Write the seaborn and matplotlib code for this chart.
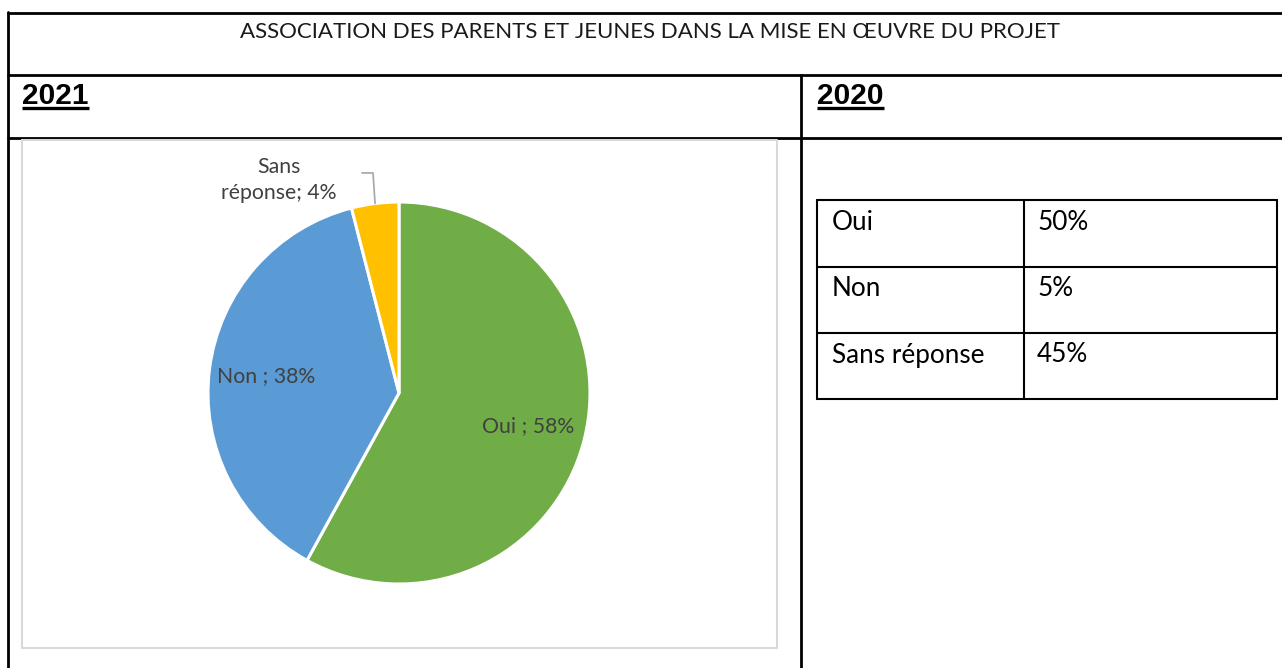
import matplotlib
matplotlib.use("Agg")
import matplotlib.pyplot as plt
import seaborn as sns
import numpy as np

# data
title = "ASSOCIATION DES PARENTS ET JEUNES DANS LA MISE EN ŒUVRE DU PROJET"
years = ["2021", "2020"]
labels_2021 = ["Oui", "Non", "Sans réponse"]
values_2021 = [58, 38, 4]
labels_2020 = ["Oui", "Non", "Sans réponse"]
values_2020 = ["50%", "5%", "45%"]
colors = ["#70AD47", "#5B9BD5", "#FFC000"]

sns.set_theme(style="white")
plt.rcParams["font.family"] = ["Lato", "DejaVu Sans"]

W, H = 1282, 668
fig = plt.figure(figsize=(W / 100, H / 100), dpi=100)

# overlay axes in pixel units for the page table
page = fig.add_axes([0, 0, 1, 1])
page.set_xlim(0, W)
page.set_ylim(H, 0)
page.axis("off")

lw = 2.0
for y in [13, 75, 138]:
    page.plot([7, W], [y, y], color="black", lw=lw, solid_capstyle="butt")
page.plot([8, 8], [12, H], color="black", lw=lw)
page.plot([801, 801], [75, H], color="black", lw=lw)

page.text(650, 32, title, ha="center", va="center", fontsize=16,
          fontweight="normal", color="#1a1a1a")

for x, yr in zip([22, 817], years):
    t = page.text(x, 96, yr, ha="left", va="center", fontsize=21.5,
                  fontweight="bold", color="black",
                  family=["Liberation Sans", "DejaVu Sans"])
    fig.canvas.draw()
    bb = t.get_window_extent().transformed(page.transData.inverted())
    page.plot([bb.x0, bb.x1], [108, 108], color="black", lw=2.4,
              solid_capstyle="butt")

# chart frame
page.plot([22, 777, 777, 22, 22], [140, 140, 648, 648, 140],
          color="#D9D9D9", lw=1.5)

# 2020 table
tx0, tx1, tcol = 817, 1277, 1024
rows_y = [200, 267, 333, 399]
for y in rows_y:
    page.plot([tx0, tx1], [y, y], color="black", lw=1.5)
for x in [tx0, tcol, tx1]:
    page.plot([x, x], [rows_y[0], rows_y[-1]], color="black", lw=1.5)
for i, (lab, val) in enumerate(zip(labels_2020, values_2020)):
    yy = rows_y[i] + 22
    page.text(832, yy, lab, ha="left", va="center", fontsize=18.8, color="black")
    page.text(1037, yy, val, ha="left", va="center", fontsize=18.8, color="black")

# pie 2021
cx, cy, r = 399, 393, 191
ax = fig.add_axes([(cx - r) / W, (H - cy - r) / H, 2 * r / W, 2 * r / H])
pie_labels = [f"{l} ; {v}%" for l, v in zip(labels_2021, values_2021)]
wedges, texts = ax.pie(values_2021, colors=colors, startangle=90,
                       counterclock=False, labels=pie_labels,
                       labeldistance=0.7,
                       wedgeprops=dict(edgecolor="white", linewidth=2.2),
                       textprops=dict(color="#404040", fontsize=15.3))
ax.set_xlim(-1, 1)
ax.set_ylim(-1, 1)
ax.set_aspect("equal")
ax.axis("off")
for t in texts:
    t.set_ha("center")
    t.set_va("center")

# outside label for the small slice with leader line
w = wedges[2]
mid = np.deg2rad((w.theta1 + w.theta2) / 2)
ex, ey = np.cos(mid), np.sin(mid)
texts[2].set_text("Sans\nréponse; 4%")
texts[2].set_position((-0.63, 1.115))
texts[2].set_multialignment("center")
texts[2].set_linespacing(1.35)
ax.plot([-0.194, -0.136, ex], [1.152, 1.152, ey], color="#A6A6A6", lw=1.2,
        clip_on=False)

fig.savefig("out.png", dpi=100)
